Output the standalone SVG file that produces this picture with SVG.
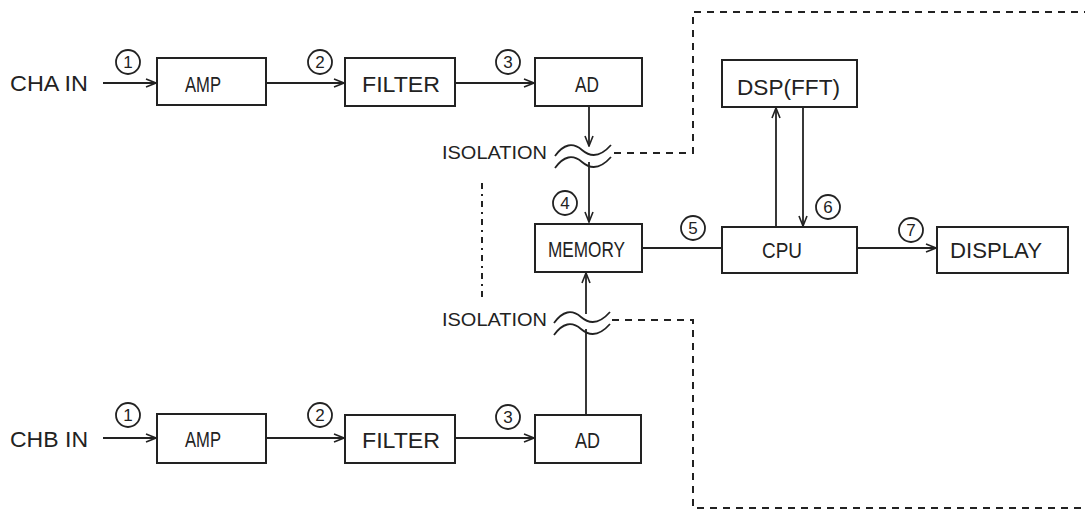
<svg xmlns="http://www.w3.org/2000/svg" width="1085" height="511" viewBox="0 0 1085 511">
<style>
.box{fill:#fff;stroke:#222;stroke-width:2}
.t{font-family:"Liberation Sans","DejaVu Sans",sans-serif;font-size:22px;fill:#222}
.s{font-family:"Liberation Sans","DejaVu Sans",sans-serif;font-size:18px;fill:#222}
.n{font-family:"Liberation Sans","DejaVu Sans",sans-serif;font-size:17px;fill:#222;text-anchor:middle}
.c{fill:none;stroke:#222;stroke-width:1.8}
.ln{fill:none;stroke:#222;stroke-width:1.8}
.dash{fill:none;stroke:#222;stroke-width:2;stroke-dasharray:7 6}
.dd{fill:none;stroke:#222;stroke-width:2;stroke-dasharray:6 5 2 5}
</style>
<defs>
<marker id="arr" viewBox="0 0 12 12" refX="11" refY="6" markerWidth="12" markerHeight="12" markerUnits="userSpaceOnUse" orient="auto">
<path d="M1,2 L11,6 L1,10" fill="none" stroke="#222" stroke-width="1.6"/>
</marker>
</defs>

<g id="connectors">
<path class="ln" d="M103,83 H156" marker-end="url(#arr)"/>
<path class="ln" d="M266,83 H344" marker-end="url(#arr)"/>
<path class="ln" d="M455,83 H534" marker-end="url(#arr)"/>
<path class="ln" d="M589,106 V146" marker-end="url(#arr)"/>
<path class="ln" d="M589,162 V222" marker-end="url(#arr)"/>
<path class="ln" d="M642,248 H722"/>
<path class="ln" d="M776,227 V108" marker-end="url(#arr)"/>
<path class="ln" d="M803,107 V226" marker-end="url(#arr)"/>
<path class="ln" d="M857,248 H936" marker-end="url(#arr)"/>
<path class="ln" d="M103,438 H156" marker-end="url(#arr)"/>
<path class="ln" d="M266,438 H344" marker-end="url(#arr)"/>
<path class="ln" d="M455,438 H534" marker-end="url(#arr)"/>
<path class="ln" d="M586,415 V329"/>
<path class="ln" d="M586,314 V273" marker-end="url(#arr)"/>
<path class="dash" d="M614,153 H693 V12 H1085"/>
<path class="dash" d="M612,320 H693 V508 H1085"/>
<path class="dd" d="M482,183 V302"/>
</g>

<g id="isolation-a">
<path class="ln" d="M555,156 Q568,138 582,150 T611,145"/>
<path class="ln" d="M555,168 Q568,150 582,162 T611,157"/>
<text class="s" x="442" y="159" textLength="105" lengthAdjust="spacingAndGlyphs">ISOLATION</text>
</g>
<g id="isolation-b">
<path class="ln" d="M554,323 Q567,305 581,317 T610,312"/>
<path class="ln" d="M554,335 Q567,317 581,329 T610,324"/>
<text class="s" x="442" y="326" textLength="105" lengthAdjust="spacingAndGlyphs">ISOLATION</text>
</g>

<g id="cha-in"><text class="t" x="10" y="91" textLength="78" lengthAdjust="spacingAndGlyphs">CHA IN</text></g>
<g id="chb-in"><text class="t" x="10" y="447" textLength="78" lengthAdjust="spacingAndGlyphs">CHB IN</text></g>

<g id="amp-a"><rect class="box" x="157" y="58" width="109" height="47"/><text class="t" x="185" y="92" textLength="36" lengthAdjust="spacingAndGlyphs">AMP</text></g>
<g id="filter-a"><rect class="box" x="345" y="58" width="110" height="48"/><text class="t" x="362" y="92" textLength="78" lengthAdjust="spacingAndGlyphs">FILTER</text></g>
<g id="ad-a"><rect class="box" x="535" y="58" width="107" height="48"/><text class="t" x="575" y="92" textLength="24" lengthAdjust="spacingAndGlyphs">AD</text></g>
<g id="memory"><rect class="box" x="535" y="224" width="107" height="48"/><text class="t" x="548" y="257" textLength="77" lengthAdjust="spacingAndGlyphs">MEMORY</text></g>
<g id="dsp"><rect class="box" x="722" y="60" width="135" height="47"/><text class="t" x="737" y="95" textLength="103" lengthAdjust="spacingAndGlyphs">DSP(FFT)</text></g>
<g id="cpu"><rect class="box" x="722" y="227" width="135" height="46"/><text class="t" x="762" y="258" textLength="40" lengthAdjust="spacingAndGlyphs">CPU</text></g>
<g id="display"><rect class="box" x="937" y="227" width="131" height="46"/><text class="t" x="950" y="258" textLength="92" lengthAdjust="spacingAndGlyphs">DISPLAY</text></g>
<g id="amp-b"><rect class="box" x="157" y="414" width="109" height="49"/><text class="t" x="185" y="447" textLength="36" lengthAdjust="spacingAndGlyphs">AMP</text></g>
<g id="filter-b"><rect class="box" x="345" y="415" width="110" height="48"/><text class="t" x="362" y="448" textLength="78" lengthAdjust="spacingAndGlyphs">FILTER</text></g>
<g id="ad-b"><rect class="box" x="535" y="415" width="106" height="48"/><text class="t" x="575" y="448" textLength="25" lengthAdjust="spacingAndGlyphs">AD</text></g>

<g id="labels">
<circle class="c" cx="128" cy="62" r="12"/><text class="n" x="128" y="68">1</text>
<circle class="c" cx="320" cy="62" r="12"/><text class="n" x="320" y="68">2</text>
<circle class="c" cx="508" cy="62" r="12"/><text class="n" x="508" y="68">3</text>
<circle class="c" cx="565" cy="203" r="12"/><text class="n" x="565" y="209">4</text>
<circle class="c" cx="693" cy="228" r="12"/><text class="n" x="693" y="234">5</text>
<circle class="c" cx="828" cy="207" r="12"/><text class="n" x="828" y="213">6</text>
<circle class="c" cx="911" cy="230" r="12"/><text class="n" x="911" y="236">7</text>
<circle class="c" cx="128" cy="415" r="12"/><text class="n" x="128" y="421">1</text>
<circle class="c" cx="320" cy="415" r="12"/><text class="n" x="320" y="421">2</text>
<circle class="c" cx="508" cy="417" r="12"/><text class="n" x="508" y="423">3</text>
</g>
</svg>
